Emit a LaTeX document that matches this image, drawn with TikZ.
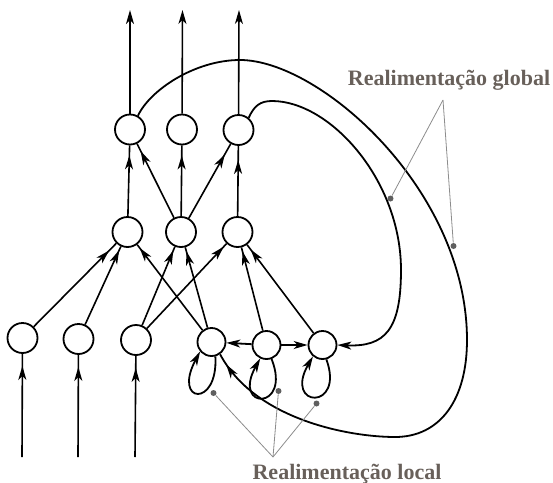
\documentclass[tikz,border=0pt]{standalone}
\usepackage{fontspec}
\setmainfont{Liberation Serif}
\usetikzlibrary{arrows.meta,decorations.markings}
\definecolor{notegray}{RGB}{104,96,90}
\definecolor{leadgray}{RGB}{140,140,140}
\definecolor{dotgray}{RGB}{95,95,95}

\begin{document}
\begin{tikzpicture}[x=0.5pt,y=-0.5pt,>={Stealth[length=7pt,width=4pt,inset=2pt]},
	neuron/.style={draw,circle,line width=0.9pt,minimum size=15pt,inner sep=0pt},
	rneuron/.style={neuron,minimum size=14pt},
	conn/.style={line width=0.8pt,postaction={decorate},decoration={markings,mark=at position -#1 with {\arrow{>}}}},
	conn/.default=2pt,
	fb/.style={line width=0.9pt},
	leader/.style={leadgray,line width=0.4pt},
	ldot/.style={circle,fill=dotgray,inner sep=0pt,minimum size=3pt},
	notetext/.style={notegray,font=\fontsize{11}{13}\selectfont\bfseries}]
		\useasboundingbox (0,0) rectangle (553,483);

		% neurons
		\node (O1) [neuron] at (130,129.5) {};
		\node (O2) [neuron] at (182,129.5) {};
		\node (O3) [neuron] at (238.5,130) {};
		\node (H1) [neuron] at (127.5,232) {};
		\node (H2) [neuron] at (181,232) {};
		\node (H3) [neuron] at (237.5,232) {};
		\node (I1) [neuron] at (22.5,338) {};
		\node (I2) [neuron] at (78.5,339) {};
		\node (I3) [neuron] at (136,340) {};
		\node (R1) [rneuron] at (211.5,342) {};
		\node (R2) [rneuron] at (266.5,345) {};
		\node (R3) [rneuron] at (322.5,345) {};

		\coordinate (out1) at (130,10);
		\coordinate (out2) at (182.5,10);
		\coordinate (out3) at (239,10);
		\coordinate (in1) at (22,457);
		\coordinate (in2) at (78,457);
		\coordinate (in3) at (135,457);

		% inputs and outputs
		\draw [conn=6pt] (in1) -- (I1);
		\draw [conn=6pt] (in2) -- (I2);
		\draw [conn=6pt] (in3) -- (I3);
		\draw [->,line width=0.8pt] (O1) -- (out1);
		\draw [->,line width=0.8pt] (O2) -- (out2);
		\draw [->,line width=0.8pt] (O3) -- (out3);

		% feedforward
		\draw [conn=5pt] (I1) -- (H1);
		\draw [conn] (I2) -- (H1);
		\draw [conn] (I3) -- (H2);
		\draw [conn] (I3) -- (H3);
		\draw [conn] (R1) -- (H1);
		\draw [conn] (R1) -- (H2);
		\draw [conn] (R2) -- (H3);
		\draw [conn=3pt] (R3) -- (H3);
		\draw [conn=5pt] (H1) -- (O1);
		\draw [conn=4pt] (H2) -- (O1);
		\draw [conn=5pt] (H2) -- (O2);
		\draw [conn=6pt] (H2) -- (O3);
		\draw [conn=7pt] (H3) -- (O3);

		% local feedback
		\draw [->,fb] (R2) -- (R1);
		\draw [->,fb] (R2) -- (R3);
		\draw [->,fb] (R1.-75) .. controls +(3,52) and +(-28,52) .. (R1.-140);
		\draw [->,fb] (R2.-70) .. controls +(20.5,52) and +(-29,52) .. (R2.-115);
		\draw [->,fb] (R3.-75) .. controls +(19,51.5) and +(-30,52) .. (R3.-130);

		% global feedback
		\draw [conn=6pt,fb] (O1.60) .. controls (150,90) and (195,60) .. (240,60)
			.. controls (320,60) and (467,190) .. (467,340)
			.. controls (467,400) and (440,437) .. (395,437)
			.. controls (350,437) and (255,420) .. (R1.-55);
		\draw [->,fb] (O3.50) .. controls (254,106) and (260,101) .. (272,101)
			.. controls (330,101) and (401,180) .. (401,270)
			.. controls (401,330) and (385,347) .. (R3.east);

		% labels
		\node (global) [notetext,anchor=base] at (449,85) {Realimentação global};
		\node (local) [notetext,anchor=base] at (347,479) {Realimentação local};
		\coordinate (gtip) at (443,100);
		\coordinate (ltip) at (273,457);
		\node (g1) [ldot] at (390.5,198.5) {};
		\node (g2) [ldot] at (453.5,246) {};
		\node (l1) [ldot] at (213.5,393) {};
		\node (l2) [ldot] at (278.5,391) {};
		\node (l3) [ldot] at (316.5,403.5) {};
		\draw [leader] (gtip) -- (g1);
		\draw [leader] (gtip) -- (g2);
		\draw [leader] (ltip) -- (l1);
		\draw [leader] (ltip) -- (l2);
		\draw [leader] (ltip) -- (l3);
\end{tikzpicture}
\end{document}
